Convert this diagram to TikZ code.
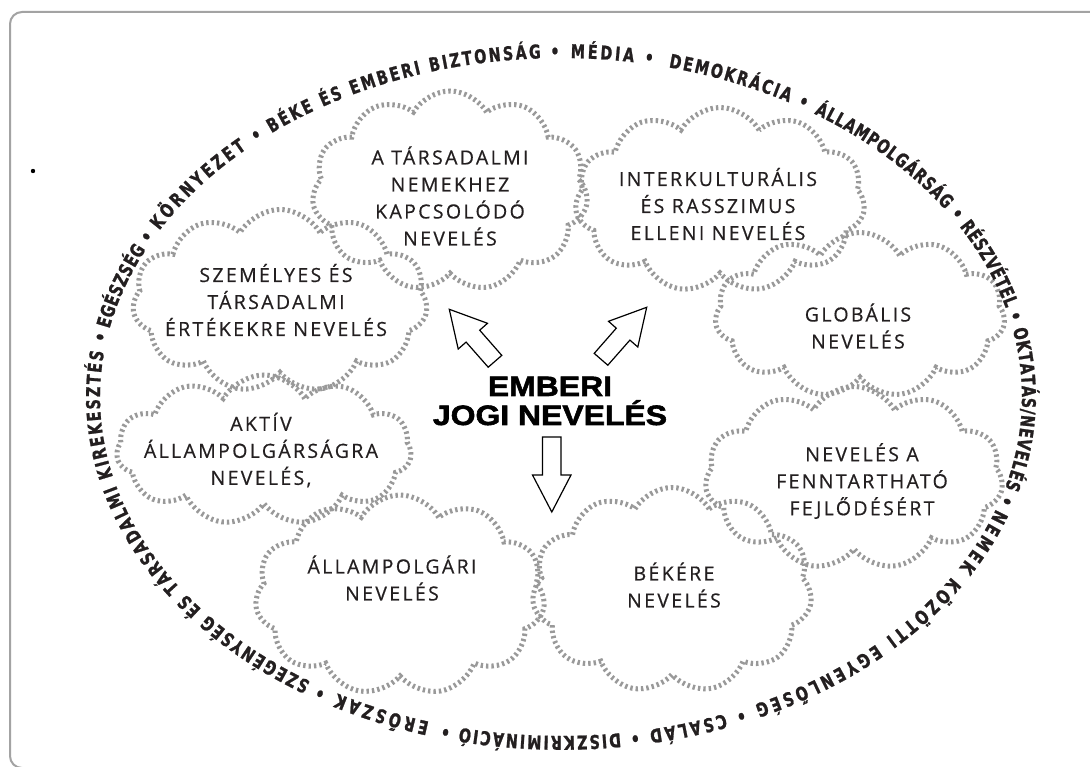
\documentclass[tikz,border=0pt]{standalone}
\usepackage{fontspec}
\usetikzlibrary{shapes.symbols,decorations.text}
\newfontfamily\cloudfont[LetterSpace=12,FakeBold=0.5]{Open Sans}
\newfontfamily\ringfont[FakeStretch=0.75,FakeBold=1.2]{DejaVu Sans}
\newfontfamily\centerfont[FakeStretch=1.14,FakeBold=2]{Liberation Sans}
\definecolor{cloudgray}{HTML}{999999}
\definecolor{txt}{HTML}{231F20}
\definecolor{framegray}{HTML}{A3A3A3}
\newcommand\cloudstyle{\cloudfont\fontsize{19.5}{27}\selectfont}
\newcommand\ringstyle{\ringfont\bfseries\fontsize{19}{19}\selectfont\color{txt}}
\newcommand\centerstyle{\centerfont\bfseries\fontsize{28}{29}\selectfont}
% one stretch of the ring text, between two parameter angles of the ellipse
\newcommand\ringseg[3]{%
  \path[decorate, decoration={text along path, text align=fit to path, text={|\ringstyle|#3}}]
    ([shift={(#1:461 and 339)}]561,397) arc[start angle=#1, end angle=#2, x radius=461, y radius=339];}
\tikzset{
  cloudbox/.style={shape=cloud, cloud puffs=11, cloud puff arc=120, cloud ignores aspect,
    draw=cloudgray, line width=5pt, dash pattern=on 2.4pt off 3pt, inner sep=0pt},
  cloudtext/.style={font=\cloudstyle, text=txt, align=center, inner sep=0pt},
  hollowarrow/.style={draw=black, fill=white, line width=1.2pt, line join=miter},
}
\begin{document}
\begin{tikzpicture}[x=1pt,y=-1pt]
\useasboundingbox (0,0) rectangle (1090,767);
\fill[white] (0,0) rectangle (1090,767);
\draw[framegray, line width=2pt, rounded corners=12pt] (10,12) rectangle (1120,768);
\fill[black] (33,171) circle (2.2);

% clouds
\node[cloudbox, minimum width=276pt, minimum height=200pt] (c1) at (450,191) {};
\node[cloudbox, minimum width=290pt, minimum height=185pt] (c2) at (720,200) {};
\node[cloudbox, minimum width=295pt, minimum height=183pt] (c3) at (280,301) {};
\node[cloudbox, minimum width=295pt, minimum height=150pt] (c4) at (264,450) {};
\node[cloudbox, minimum width=290pt, minimum height=165pt] (c5) at (860,315) {};
\node[cloudbox, minimum width=298pt, minimum height=183pt] (c6) at (854,478) {};
\node[cloudbox, minimum width=290pt, minimum height=200pt] (c7) at (400,595) {};
\node[cloudbox, minimum width=280pt, minimum height=205pt] (c8) at (672,590) {};

% cloud texts
\node[cloudtext] (t1) at (450,196) {A TÁRSADALMI\\NEMEKHEZ\\KAPCSOLÓDÓ\\NEVELÉS};
\node[cloudtext] (t2) at (718,204) {INTERKULTURÁLIS\\ÉS RASSZIMUS\\ELLENI NEVELÉS};
\node[cloudtext] (t3) at (276,300) {SZEMÉLYES ÉS\\TÁRSADALMI\\ÉRTÉKEKRE NEVELÉS};
\node[cloudtext] (t4) at (261,450) {AKTÍV\\ÁLLAMPOLGÁRSÁGRA\\NEVELÉS,};
\node[cloudtext] (t5) at (858,326) {GLOBÁLIS\\NEVELÉS};
\node[cloudtext] (t6) at (862,481) {NEVELÉS A\\FENNTARTHATÓ\\FEJLŐDÉSÉRT};
\node[cloudtext] (t7) at (392,578) {ÁLLAMPOLGÁRI\\NEVELÉS};
\node[cloudtext] (t8) at (674,585) {BÉKÉRE\\NEVELÉS};

% centre
\node[font=\centerstyle, text=black, align=center, inner sep=0pt] (center) at (550,401) {EMBERI\\JOGI NEVELÉS};

% arrows
\draw[hollowarrow] (488.2,367.2) -- (466.1,342.1) -- (458.2,349.0) -- (449.3,309.3) -- (487.5,323.3) -- (479.7,330.2) -- (501.8,355.4) -- cycle;
\draw[hollowarrow] (607.8,365.2) -- (629.9,340.1) -- (637.8,347.0) -- (646.7,307.3) -- (608.5,321.3) -- (616.3,328.2) -- (594.2,353.4) -- cycle;
\draw[hollowarrow] (542.5,437) -- (561,437) -- (561,475) -- (571,475) -- (551.8,512) -- (532.5,475) -- (542.5,475) -- cycle;

% ring text
\ringseg{19.3}{67.8}{NEMEK KÖZÖTTI EGYENLŐSÉG •}
\ringseg{69.2}{81.4}{CSALÁD •}
\ringseg{82.6}{104.9}{DISZKRIMINÁCIÓ •}
\ringseg{106.6}{121.7}{ERŐSZAK •}
\ringseg{122.9}{190.6}{SZEGÉNYSÉG ÉS TÁRSADALMI KIREKESZTÉS •}
\ringseg{191.6}{208.2}{EGÉSZSÉG •}
\ringseg{209.4}{229.8}{KÖRNYEZET •}
\ringseg{231.1}{269.8}{BÉKE ÉS EMBERI BIZTONSÁG •}
\ringseg{271.2}{281.5}{MÉDIA •}
\ringseg{283.5}{302.0}{DEMOKRÁCIA •}
\ringseg{303.3}{328.8}{ÁLLAMPOLGÁRSÁG •}
\ringseg{329.8}{347.3}{RÉSZVÉTEL •}
\ringseg{348.5}{378.2}{OKTATÁS/NEVELÉS •}
\end{tikzpicture}
\end{document}
